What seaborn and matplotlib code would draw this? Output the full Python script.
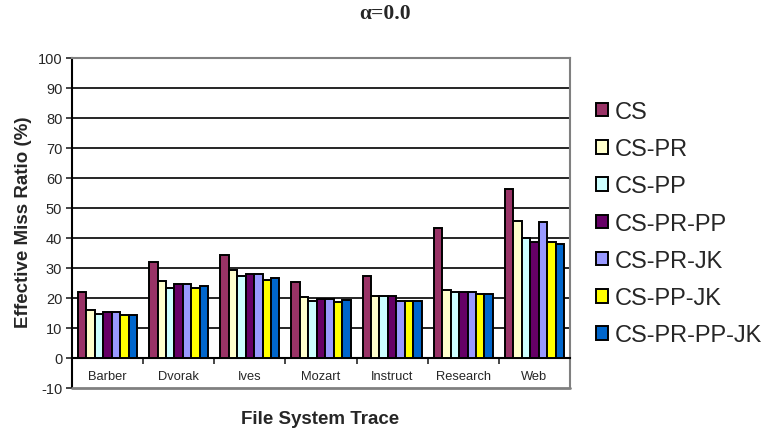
import numpy as np
import pandas as pd
import seaborn as sns
import matplotlib.pyplot as plt
from matplotlib.patches import Patch
from matplotlib.ticker import MultipleLocator, FixedLocator

sns.set_style("white")
plt.rcParams['font.family'] = ['Liberation Sans', 'DejaVu Sans']
plt.rcParams['axes.unicode_minus'] = False

traces = ['Barber', 'Dvorak', 'Ives', 'Mozart', 'Instruct', 'Research', 'Web']
schemes = ['CS', 'CS-PR', 'CS-PP', 'CS-PR-PP', 'CS-PR-JK', 'CS-PP-JK', 'CS-PR-PP-JK']
colors = ['#993366', '#FFFFCC', '#CCFFFF', '#660066', '#9999FF', '#FFFF00', '#0066CC']

cs = [21.8, 31.8, 34.4, 25.2, 27.1, 43.2, 56.4]
cs_pr = [15.8, 25.7, 29.1, 20.4, 20.5, 22.6, 45.7]
cs_pp = [14.5, 23.1, 27.1, 19.0, 20.5, 21.8, 39.8]
cs_pr_pp = [15.2, 24.5, 27.9, 19.7, 20.5, 21.8, 38.5]
cs_pr_jk = [15.2, 24.5, 27.9, 19.7, 19.0, 21.8, 45.1]
cs_pp_jk = [14.4, 23.1, 25.8, 18.5, 19.0, 21.1, 38.5]
cs_pr_pp_jk = [14.4, 23.8, 26.5, 19.1, 19.0, 21.1, 37.9]

series = [cs, cs_pr, cs_pp, cs_pr_pp, cs_pr_jk, cs_pp_jk, cs_pr_pp_jk]
rows = []
for name, vals in zip(schemes, series):
	for t, v in zip(traces, vals):
		rows.append((t, name, v))
df = pd.DataFrame(rows, columns=['trace', 'scheme', 'ratio'])

fig = plt.figure(figsize=(7.67, 4.35), dpi=100)
ax = fig.add_axes([72/767, 1-388.7/435, (570-72)/767, (388.7-58.7)/435])

sns.barplot(data=df, x='trace', y='ratio', hue='scheme', order=traces, hue_order=schemes,
			palette=colors, saturation=1, width=0.83, edgecolor='black', linewidth=1.4,
			errorbar=None, legend=False, ax=ax, zorder=3)

ax.set_ylim(-10, 100)
ax.set_xlim(-0.5, 6.5)
ax.yaxis.set_major_locator(MultipleLocator(10))
for y in range(10, 100, 10):
	ax.axhline(y, color='black', lw=1.2, zorder=1)

# frame: black y axis, x axis at 0, gray border elsewhere
ax.spines['left'].set_color('black')
ax.spines['left'].set_linewidth(1.5)
ax.spines['bottom'].set_position(('data', 0))
ax.spines['bottom'].set_color('black')
ax.spines['bottom'].set_linewidth(1.5)
ax.spines['top'].set_color('#808080')
ax.spines['top'].set_linewidth(1.5)
ax.spines['right'].set_color('#808080')
ax.spines['right'].set_linewidth(1.5)
ax.axhline(-10, color='#808080', lw=2.0, zorder=4, clip_on=False)

ax.tick_params(axis='y', direction='out', length=4, width=1.2, pad=3, labelsize=10.5, left=True)
ax.tick_params(axis='x', which='major', length=0, pad=9, labelsize=9.3)
ax.xaxis.set_minor_locator(FixedLocator(np.arange(-0.5, 7, 1)))
ax.tick_params(axis='x', which='minor', direction='out', length=4, width=1.2, bottom=True)

ax.set_xlabel('')
ax.set_ylabel('')
fig.text(320/767, 1-420/435, 'File System Trace', ha='center', va='center',
		 fontsize=13.5, fontweight='bold')
fig.text(24/767, 1-222/435, 'Effective Miss Ratio (%)', ha='center', va='center',
		 rotation=90, fontsize=13.5, fontweight='bold')
fig.text(385/767, 1-14/435, '\u03b1=0.0', ha='center', va='center', fontsize=15.5,
		 fontweight='bold', family=['Liberation Serif', 'DejaVu Serif'])

handles = [Patch(facecolor=c, edgecolor='black', linewidth=1.4) for c in colors]
fig.legend(handles, schemes, loc='upper left', bbox_to_anchor=(596/767, 1-102/435),
		   frameon=False, fontsize=17, handlelength=0.51, handleheight=0.51,
		   handletextpad=0.3, labelspacing=0.645, borderaxespad=0, borderpad=0)

plt.savefig('out.png', dpi=100)
